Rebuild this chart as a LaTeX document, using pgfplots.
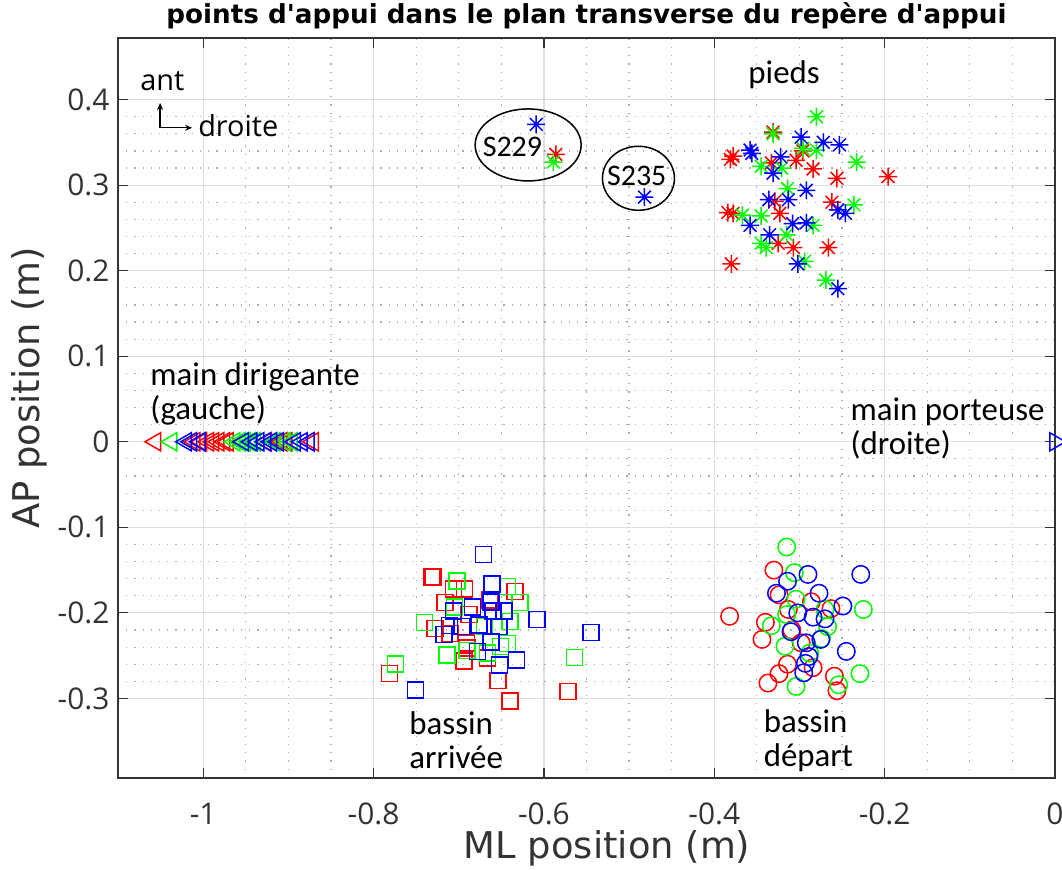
\documentclass[border=0pt]{standalone}
\usepackage{fontspec}
\setmainfont{Open Sans}
\newfontfamily\annot{Carlito}
\newfontfamily\ttl{DejaVu Sans}
\usepackage{pgfplots}
\pgfplotsset{compat=1.18}
\usetikzlibrary{arrows.meta}

% MATLAB-like '*' marker (plus + cross)
\pgfdeclareplotmark{mstar}{%
  \pgfpathmoveto{\pgfqpoint{-\pgfplotmarksize}{0pt}}\pgfpathlineto{\pgfqpoint{\pgfplotmarksize}{0pt}}%
  \pgfpathmoveto{\pgfqpoint{0pt}{-\pgfplotmarksize}}\pgfpathlineto{\pgfqpoint{0pt}{\pgfplotmarksize}}%
  \pgfpathmoveto{\pgfqpoint{-0.7071\pgfplotmarksize}{-0.7071\pgfplotmarksize}}\pgfpathlineto{\pgfqpoint{0.7071\pgfplotmarksize}{0.7071\pgfplotmarksize}}%
  \pgfpathmoveto{\pgfqpoint{-0.7071\pgfplotmarksize}{0.7071\pgfplotmarksize}}\pgfpathlineto{\pgfqpoint{0.7071\pgfplotmarksize}{-0.7071\pgfplotmarksize}}%
  \pgfusepathqstroke}

\definecolor{gridmaj}{gray}{0.87}
\definecolor{gridmin}{gray}{0.68}

\begin{document}
\begin{tikzpicture}
\begin{axis}[
    name=ax,
    scale only axis,
    width=937bp, height=740bp,
    xmin=-1.1, xmax=0, ymin=-0.393, ymax=0.472,
    xtick={-1,-0.8,-0.6,-0.4,-0.2,0},
    ytick={-0.3,-0.2,-0.1,0,0.1,0.2,0.3,0.4},
    minor x tick num=3, minor y tick num=4,
    grid=both,
    major grid style={gridmaj, line width=1.2bp},
    minor grid style={gridmin, line width=1.2bp, dash pattern=on 1.2bp off 7bp},
    axis line style={line width=1.5bp, black!80},
    tick align=inside,
    major tick length=10bp, minor tick length=0pt,
    major tick style={line width=1.2bp, black!80},
    /pgf/number format/assume math mode=true,
    ticklabel style={font=\fontsize{30}{34}\selectfont, text=black!80},
    xticklabel style={anchor=center, yshift=-36bp},
    yticklabel style={anchor=east, xshift=-5bp},
    label style={font=\ttl\fontsize{37}{40}\selectfont, text=black!80},
    xlabel={ML position (m)},
    ylabel={AP position (m)},
    xlabel style={at={(axis description cs:0.522,0)}, anchor=center, yshift=-70bp},
    ylabel style={at={(axis description cs:-0.0949,0.527)}, anchor=center},
    title={points d'appui dans le plan transverse du repère d'appui},
    title style={font=\ttl\bfseries\fontsize{26.3}{30}\selectfont, at={(axis description cs:0.5,1)}, anchor=base, yshift=9bp},
    clip=false,
  ]
% pieds
\addplot[only marks, mark=mstar, mark size=9bp, line width=1.5bp, color=red] coordinates {
 (-0.331,0.362) (-0.378,0.334) (-0.381,0.330) (-0.333,0.326) (-0.304,0.329) (-0.296,0.340)
 (-0.284,0.319) (-0.256,0.308) (-0.196,0.310) (-0.329,0.281) (-0.262,0.280) (-0.384,0.268)
 (-0.378,0.267) (-0.323,0.267) (-0.325,0.232) (-0.307,0.227) (-0.266,0.227) (-0.380,0.208)
 (-0.586,0.336)};
\addplot[only marks, mark=mstar, mark size=9bp, line width=1.5bp, color=green] coordinates {
 (-0.280,0.380) (-0.331,0.360) (-0.296,0.343) (-0.280,0.341) (-0.233,0.327) (-0.345,0.322)
 (-0.321,0.320) (-0.314,0.296) (-0.236,0.277) (-0.367,0.265) (-0.345,0.264) (-0.284,0.253)
 (-0.315,0.242) (-0.345,0.232) (-0.339,0.227) (-0.294,0.211) (-0.269,0.189) (-0.589,0.327)};
\addplot[only marks, mark=mstar, mark size=9bp, line width=1.5bp, color=blue] coordinates {
 (-0.298,0.356) (-0.272,0.350) (-0.253,0.347) (-0.358,0.341) (-0.356,0.337) (-0.322,0.333)
 (-0.331,0.314) (-0.292,0.294) (-0.336,0.283) (-0.313,0.283) (-0.255,0.271) (-0.246,0.267)
 (-0.358,0.253) (-0.308,0.255) (-0.292,0.256) (-0.335,0.242) (-0.302,0.208) (-0.255,0.179)
 (-0.609,0.371) (-0.482,0.286)};
% main dirigeante
\addplot[only marks, mark=triangle, mark size=10.5bp, mark options={rotate=90}, line width=1.5bp, color=red] coordinates {
 (-1.056,0) (-1.010,0) (-1.002,0) (-0.994,0) (-0.988,0) (-0.982,0) (-0.975,0) (-0.971,0)
 (-0.926,0) (-0.908,0) (-0.902,0) (-0.871,0)};
\addplot[only marks, mark=triangle, mark size=10.5bp, mark options={rotate=90}, line width=1.5bp, color=green] coordinates {
 (-1.037,0) (-0.963,0) (-0.957,0) (-0.951,0) (-0.945,0) (-0.939,0) (-0.916,0) (-0.904,0) (-0.896,0)};
\addplot[only marks, mark=triangle, mark size=10.5bp, mark options={rotate=90}, line width=1.5bp, color=blue] coordinates {
 (-1.020,0) (-1.014,0) (-1.004,0) (-0.953,0) (-0.943,0) (-0.935,0) (-0.927,0) (-0.920,0)
 (-0.912,0) (-0.892,0) (-0.884,0) (-0.876,0)};
% main porteuse
\addplot[only marks, mark=triangle, mark size=10.5bp, mark options={rotate=-90}, line width=1.5bp, color=blue] coordinates {(0,0)};
% bassin arrivee
\addplot[only marks, mark=square, mark size=8bp, line width=1.5bp, color=red] coordinates {
 (-0.732,-0.158) (-0.730,-0.158) (-0.706,-0.172) (-0.693,-0.172) (-0.634,-0.175) (-0.716,-0.188)
 (-0.663,-0.185) (-0.688,-0.202) (-0.728,-0.218) (-0.710,-0.224) (-0.691,-0.235) (-0.690,-0.241)
 (-0.694,-0.256) (-0.666,-0.253) (-0.781,-0.271) (-0.654,-0.279) (-0.640,-0.303) (-0.572,-0.292)};
\addplot[only marks, mark=square, mark size=8bp, line width=1.5bp, color=green] coordinates {
 (-0.702,-0.163) (-0.643,-0.169) (-0.628,-0.188) (-0.705,-0.193) (-0.740,-0.211) (-0.640,-0.210)
 (-0.670,-0.216) (-0.643,-0.236) (-0.651,-0.239) (-0.690,-0.244) (-0.714,-0.249) (-0.666,-0.247)
 (-0.564,-0.252) (-0.774,-0.260)};
\addplot[only marks, mark=square, mark size=8bp, line width=1.5bp, color=blue] coordinates {
 (-0.671,-0.132) (-0.661,-0.166) (-0.684,-0.193) (-0.662,-0.187) (-0.660,-0.198) (-0.647,-0.198)
 (-0.706,-0.198) (-0.608,-0.208) (-0.545,-0.223) (-0.711,-0.215) (-0.717,-0.225) (-0.696,-0.216)
 (-0.676,-0.214) (-0.653,-0.216) (-0.662,-0.234) (-0.678,-0.245) (-0.632,-0.255) (-0.652,-0.261)
 (-0.751,-0.290)};
% bassin depart
\addplot[only marks, mark=o, mark size=8.7bp, line width=1.5bp, color=red] coordinates {
 (-0.330,-0.150) (-0.324,-0.179) (-0.286,-0.187) (-0.263,-0.195) (-0.382,-0.204) (-0.313,-0.196)
 (-0.340,-0.211) (-0.309,-0.220) (-0.344,-0.231) (-0.298,-0.235) (-0.314,-0.260) (-0.324,-0.271)
 (-0.284,-0.264) (-0.337,-0.282) (-0.259,-0.274) (-0.256,-0.291)};
\addplot[only marks, mark=o, mark size=8.7bp, line width=1.5bp, color=green] coordinates {
 (-0.315,-0.123) (-0.306,-0.153) (-0.304,-0.184) (-0.270,-0.196) (-0.225,-0.196) (-0.333,-0.215)
 (-0.315,-0.202) (-0.267,-0.216) (-0.274,-0.230) (-0.317,-0.239) (-0.288,-0.247) (-0.229,-0.271)
 (-0.304,-0.286) (-0.254,-0.284)};
\addplot[only marks, mark=o, mark size=8.7bp, line width=1.5bp, color=blue] coordinates {
 (-0.290,-0.155) (-0.228,-0.155) (-0.314,-0.163) (-0.327,-0.177) (-0.277,-0.177) (-0.249,-0.192)
 (-0.302,-0.200) (-0.284,-0.205) (-0.270,-0.207) (-0.310,-0.222) (-0.275,-0.231) (-0.292,-0.235)
 (-0.245,-0.245) (-0.289,-0.251) (-0.293,-0.259) (-0.295,-0.270)};

% annotations
\draw[line width=1.5bp] (axis cs:-0.6185,0.347) ellipse [x radius=53bp, y radius=36bp];
\draw[line width=1.5bp] (axis cs:-0.489,0.308) ellipse [x radius=36bp, y radius=32bp];
\node[font=\annot\fontsize{30}{34}\selectfont] at (axis cs:-0.637,0.345) {S229};
\node[font=\annot\fontsize{30}{34}\selectfont] at (axis cs:-0.491,0.311) {S235};
\node[font=\annot\fontsize{33}{34}\selectfont] at (axis cs:-0.318,0.429) {pieds};
\node[font=\annot\fontsize{33}{34}\selectfont, anchor=west, align=left] at (axis cs:-1.066,0.056) {main dirigeante\\(gauche)};
\node[font=\annot\fontsize{33}{34}\selectfont, anchor=west, align=left] at (axis cs:-0.244,0.016) {main porteuse\\(droite)};
\node[font=\annot\fontsize{33}{34}\selectfont, anchor=west, align=left] at (axis cs:-0.762,-0.349) {bassin\\arrivée};
\node[font=\annot\fontsize{33}{34}\selectfont, anchor=west, align=left] at (axis cs:-0.346,-0.349) {bassin\\départ};
\draw[line width=1.3bp, -{Stealth[length=7bp,width=6bp]}] (axis cs:-1.0506,0.367) -- (axis cs:-1.0506,0.396);
\draw[line width=1.3bp, -{Stealth[length=7bp,width=6bp]}] (axis cs:-1.0506,0.367) -- (axis cs:-1.0130,0.367);
\node[font=\fontsize{29}{33}\selectfont, anchor=base west, inner sep=0pt] at (axis cs:-1.074,0.4105) {ant};
\node[font=\fontsize{29}{33}\selectfont, anchor=base west, inner sep=0pt] at (axis cs:-1.006,0.357) {droite};
\end{axis}
\pgfresetboundingbox
\path ([xshift=-118bp,yshift=-92bp]ax.south west) rectangle ([xshift=7bp,yshift=38bp]ax.north east);
\end{tikzpicture}
\end{document}
